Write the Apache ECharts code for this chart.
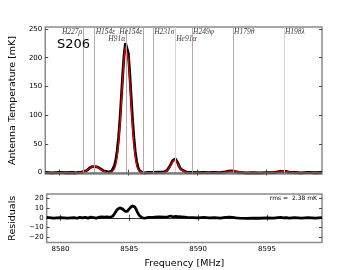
<!DOCTYPE html>
<html><head><meta charset="utf-8">
<script src="https://cdn.jsdelivr.net/npm/echarts@6/dist/echarts.min.js"></script>
<style>html,body{margin:0;padding:0;background:#fff}#c{width:360px;height:270px}</style>
</head><body><div id="c"></div>
<script>
const freq = [8579.0,8579.5,8580.0,8580.5,8581.0,8581.2,8581.4,8581.6,8581.8,8582.0,8582.2,8582.4,8582.6,8582.8,8583.0,8583.2,8583.4,8583.5,8583.6,8583.7,8583.8,8583.9,8584.0,8584.1,8584.2,8584.3,8584.4,8584.5,8584.6,8584.7,8584.8,8584.85,8584.9,8585.0,8585.1,8585.2,8585.3,8585.4,8585.5,8585.6,8585.7,8585.8,8585.9,8586.0,8586.1,8586.2,8586.4,8586.8,8587.2,8587.6,8587.8,8587.9,8588.0,8588.1,8588.2,8588.3,8588.4,8588.5,8588.6,8588.7,8588.8,8588.9,8589.2,8589.6,8590.0,8590.4,8590.8,8591.2,8591.6,8592.0,8592.25,8592.5,8592.75,8593.0,8593.5,8594.0,8594.5,8595.0,8595.5,8595.8,8596.0,8596.2,8596.4,8596.6,8597.0,8597.5,8598.0,8598.5,8599.0];
const model = [0.0,0.0,0.0,0.0,0.0,0.0,0.1,0.5,1.6,3.9,7.2,10.2,10.9,8.9,5.5,2.5,0.9,0.5,0.4,0.3,1.1,2.7,6.5,14.2,28.2,50.7,82.6,122.1,163.6,198.9,219.3,222.0,219.3,198.9,163.6,122.1,82.6,50.7,28.2,14.2,6.5,2.7,1.0,0.2,0.1,0.0,0.0,0.0,0.0,0.3,2.4,5.1,9.3,14.5,19.4,22.6,22.6,19.4,14.5,9.3,5.1,2.4,0.1,0.0,0.0,0.0,0.0,0.0,0.1,0.9,1.9,2.5,1.9,0.9,0.1,0.0,0.0,0.0,0.4,1.2,1.8,2.0,1.8,1.2,0.3,0.0,0.0,0.0,0.0];
const observed = [0.3,-0.4,0.2,-0.3,0.1,-0.5,0.5,0.3,2.1,3.6,7.8,10.4,10.5,9.4,6.3,3.1,1.9,1.3,0.9,0.9,2.6,5.7,12.0,22.2,37.7,60.7,92.8,131.1,171.1,205.4,225.5,228.5,226.3,207.9,174.6,134.1,94.8,61.7,36.7,19.7,9.3,3.7,1.2,-0.1,-0.4,-0.4,0.3,0.5,0.8,0.9,3.4,6.6,11.1,15.7,20.2,23.6,24.0,21.0,15.5,9.9,6.0,2.9,0.5,0.2,-0.2,0.3,-0.1,0.2,-0.2,1.3,2.5,2.8,1.7,0.5,-0.5,-0.3,-0.5,-0.2,0.0,1.3,2.1,1.8,2.0,0.9,0.4,-0.4,0.2,-0.3,0.1];
const residual = [0.3,-0.4,0.2,-0.3,0.1,-0.5,0.4,-0.2,0.5,-0.3,0.6,0.2,-0.4,0.5,0.8,0.6,1.0,0.8,0.5,0.6,1.5,3.0,5.5,8.0,9.5,10.0,10.2,9.0,7.5,6.5,6.2,6.5,7.0,9.0,11.0,12.0,12.2,11.0,8.5,5.5,2.8,1.0,0.2,-0.3,-0.5,-0.4,0.3,0.5,0.8,0.6,1.0,1.5,1.8,1.2,0.8,1.0,1.4,1.6,1.0,0.6,0.9,0.5,0.4,0.2,-0.2,0.3,-0.1,0.2,-0.3,0.4,0.6,0.3,-0.2,-0.4,-0.6,-0.3,-0.5,-0.2,-0.4,0.1,0.3,-0.2,0.2,-0.3,0.1,-0.4,0.2,-0.3,0.1];
const lineFreqs = [8581.74,8582.57,8584.85,8586.08,8586.80,8588.39,8589.61,8592.57,8596.25];
const lineNames = ['H227\u03c1','H154\u03b5','H91\u03b1','He154\u03b5','H231\u03c3','He91\u03b1','H249\u03c6','H179\u03b8','H198\u03bb'];
const lineLabelY = [244,244,233,244,244,233,244,244,244];
const lineLabelSide = ['left','right','left','left','right','right','right','right','right'];
const lineShade = ['#b8a8a8','#b8a8a8','#b8a8a8','#b8a8a8','#b8a8a8','#ddd0d0','#b8a8a8','#b8a8a8','#e0d4d4'];
const tempTicks = [0,50,100,150,200,250];
const residTicks = [-20,-10,0,10,20];
const freqTicks = [8580,8585,8590,8595];
const sourceName = 'S206';
const rmsText = 'rms =  2.38 mK';

const F = 'DejaVu Sans';
const pairs = (ys) => freq.map((f, i) => [f, ys[i]]);
const minus = v => v < 0 ? '\u2212' + (-v) : String(v);
const tick = (vals) => ({show: true, inside: true, length: 3, customValues: vals, lineStyle: {color: '#222', width: 0.8}});
const lab = (vals, show) => ({show: show, customValues: vals, fontFamily: F, fontSize: 7, color: '#000', margin: 3, formatter: minus});
const xa = (g, pos, show) => ({type: 'value', gridIndex: g, min: 8579, max: 8599, position: pos, axisLine: {show: false}, splitLine: {show: false}, axisTick: tick(freqTicks), axisLabel: lab(freqTicks, show)});
const ya = (g, pos, mn, mx, vals, show) => ({type: 'value', gridIndex: g, min: mn, max: mx, position: pos, axisLine: {show: false}, splitLine: {show: false}, axisTick: tick(vals), axisLabel: lab(vals, show)});

const chart = echarts.init(document.getElementById('c'), null, {renderer: 'canvas'});
const xAxes = [xa(0, 'bottom', false), xa(0, 'top', false), xa(1, 'bottom', true), xa(1, 'top', false)];
xAxes[2].name = 'Frequency [MHz]'; xAxes[2].nameLocation = 'middle'; xAxes[2].nameGap = 16;
xAxes[2].nameTextStyle = {fontFamily: F, fontSize: 9.5, color: '#000'};
const yAxes = [ya(0, 'left', -2.5, 253.5, tempTicks, true), ya(0, 'right', -2.5, 253.5, tempTicks, false),
               ya(1, 'left', -25, 24, residTicks, true), ya(1, 'right', -25, 24, residTicks, false)];
yAxes[0].name = 'Antenna Temperature [mK]'; yAxes[0].nameLocation = 'middle'; yAxes[0].nameGap = 22;
yAxes[0].nameTextStyle = {fontFamily: F, fontSize: 9.5, color: '#000'};
yAxes[2].name = 'Residuals'; yAxes[2].nameLocation = 'middle'; yAxes[2].nameGap = 22;
yAxes[2].nameTextStyle = {fontFamily: F, fontSize: 9.5, color: '#000'};

chart.setOption({
  animation: false,
  backgroundColor: '#fff',
  title: [
    {text: sourceName, left: 57, top: 38, padding: 0, textStyle: {fontFamily: F, fontSize: 13, fontWeight: 'normal', color: '#000'}},
    {text: rmsText, right: 43, top: 195, padding: 0, textStyle: {fontFamily: F, fontSize: 6, fontWeight: 'normal', color: '#000'}}
  ],
  grid: [
    {left: 45, top: 27, width: 277, height: 147, show: true, borderColor: '#8a8a8a', borderWidth: 1.5, backgroundColor: 'transparent'},
    {left: 45, top: 194, width: 277, height: 48.5, show: true, borderColor: '#8a8a8a', borderWidth: 1.5, backgroundColor: 'transparent'}
  ],
  xAxis: xAxes,
  yAxis: yAxes,
  series: [
    {type: 'line', xAxisIndex: 0, yAxisIndex: 0, data: [], z: 1, silent: true,
     markLine: {symbol: 'none', silent: true, label: {show: false},
       data: lineFreqs.map((f, i) => ({xAxis: f, lineStyle: {color: lineShade[i], width: 1, type: 'solid'}}))}},
    {type: 'line', xAxisIndex: 0, yAxisIndex: 0, data: [], z: 2, silent: true,
     markLine: {symbol: 'none', silent: true, label: {show: false},
       data: [{yAxis: 0, lineStyle: {color: '#6a6a6a', width: 1.5, type: 'solid'}}]}},
    {type: 'line', name: 'observed', xAxisIndex: 0, yAxisIndex: 0, data: pairs(observed), showSymbol: false, symbol: 'none', z: 3,
     lineStyle: {color: '#000', width: 2.8}},
    {type: 'line', name: 'model', xAxisIndex: 0, yAxisIndex: 0, data: pairs(model), showSymbol: false, symbol: 'none', z: 4,
     lineStyle: {color: '#e00000', width: 1.3}},
    {type: 'scatter', xAxisIndex: 0, yAxisIndex: 0, symbolSize: 0, z: 5, silent: true,
     data: lineFreqs.map((f, i) => ({value: [f, lineLabelY[i]],
       label: {show: true, position: lineLabelSide[i], distance: 1, formatter: lineNames[i],
               fontFamily: 'Liberation Serif', fontStyle: 'italic', fontSize: 7.5, color: '#000'}}))},
    {type: 'line', xAxisIndex: 2, yAxisIndex: 2, data: [], z: 1, silent: true,
     markLine: {symbol: 'none', silent: true, label: {show: false},
       data: [{yAxis: 0, lineStyle: {color: '#000', width: 0.8, type: 'solid'}}]}},
    {type: 'line', name: 'residual', xAxisIndex: 2, yAxisIndex: 2, data: pairs(residual), showSymbol: false, symbol: 'none', z: 3,
     lineStyle: {color: '#000', width: 2.8}}
  ]
});
</script></body></html>
